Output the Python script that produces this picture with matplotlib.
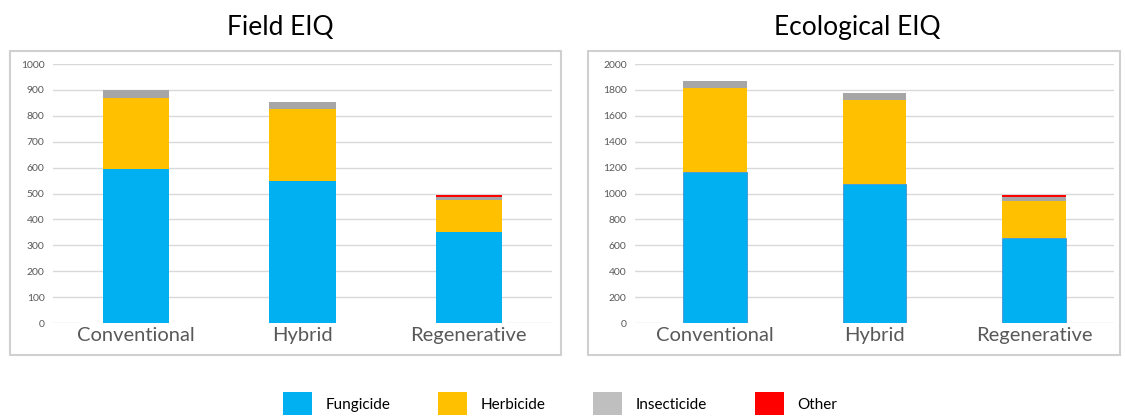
import matplotlib
matplotlib.use("Agg")
import matplotlib.pyplot as plt
from matplotlib.patches import Patch, Rectangle

plt.rcParams["font.family"] = ["Lato", "DejaVu Sans"]

# Valores por sistema de manejo
sistemas = ["Conventional", "Hybrid", "Regenerative"]
tipos = ["Fungicide", "Herbicide", "Insecticide", "Other"]

field_fungicide = [595, 548, 352]
field_herbicide = [272, 278, 122]
field_insecticide = [31, 27, 14]
field_other = [0, 0, 7]

eco_fungicide = [1164, 1074, 655]
eco_herbicide = [648, 647, 287]
eco_insecticide = [59, 57, 28]
eco_other = [0, 0, 16]

colores = ["#00B0F0", "#FFC000", "#A6A6A6", "#FF0000"]
colores_leyenda = ["#00B0F0", "#FFC000", "#BFBFBF", "#FF0000"]


def barras_apiladas(ax, series, ymax, paso, borde=None):
    x = range(len(sistemas))
    base = [0] * len(sistemas)
    for i, valores in enumerate(series):
        if i == 0 and borde:
            ax.bar(x, valores, 0.4, bottom=base, color=colores[i],
                   edgecolor=borde, linewidth=0.5, zorder=3)
        else:
            ax.bar(x, valores, 0.4, bottom=base, color=colores[i],
                   linewidth=0, zorder=3)
        base = [b + v for b, v in zip(base, valores)]

    ax.set_xlim(-0.5, len(sistemas) - 0.5)
    ax.set_ylim(0, ymax)
    ax.set_yticks(range(0, ymax + 1, paso))
    for y in range(paso, ymax + 1, paso):
        ax.axhline(y, color="#D9D9D9", linewidth=1, zorder=1)
    # linea del cero solo en los extremos
    ax.axhline(0, xmin=0, xmax=0.05, color="#D9D9D9", linewidth=1)
    ax.axhline(0, xmin=0.91, xmax=1, color="#D9D9D9", linewidth=1)

    ax.set_xticks(list(x))
    ax.set_xticklabels(sistemas, fontsize=14.5, color="#595959")
    ax.tick_params(axis="x", length=0, pad=3)
    ax.tick_params(axis="y", length=0, labelsize=7.5, labelcolor="#595959", pad=6)
    for lado in ax.spines.values():
        lado.set_visible(False)


fig = plt.figure(figsize=(11.25, 4.17), dpi=100)

# marcos grises de cada grafico
fig.patches.append(Rectangle((0.0089, 0.1487), 0.4898, 0.729, transform=fig.transFigure,
                             fill=False, edgecolor="#D0D0D0", linewidth=1.5))
fig.patches.append(Rectangle((0.5227, 0.1487), 0.4729, 0.729, transform=fig.transFigure,
                             fill=False, edgecolor="#D0D0D0", linewidth=1.5))

ax1 = fig.add_axes([0.0471, 0.2254, 0.4436, 0.6211])
barras_apiladas(ax1, [field_fungicide, field_herbicide, field_insecticide, field_other],
                1000, 100)

ax2 = fig.add_axes([0.5644, 0.2254, 0.4258, 0.6211])
barras_apiladas(ax2, [eco_fungicide, eco_herbicide, eco_insecticide, eco_other],
                2000, 200, borde="#3A86C8")

fig.text(0.249, 0.933, "Field EIQ", fontsize=19, ha="center", va="center", color="#000000")
fig.text(0.762, 0.933, "Ecological EIQ", fontsize=19, ha="center", va="center", color="#000000")

# leyenda compartida
parches = [Patch(facecolor=c, edgecolor="none") for c in colores_leyenda]
fig.legend(parches, tipos, loc="center", bbox_to_anchor=(0.498, 0.032), ncol=4,
           frameon=False, fontsize=11, handlelength=1.9, handleheight=1.9,
           handletextpad=0.9, columnspacing=3.1)

fig.savefig("out.png", dpi=100)
